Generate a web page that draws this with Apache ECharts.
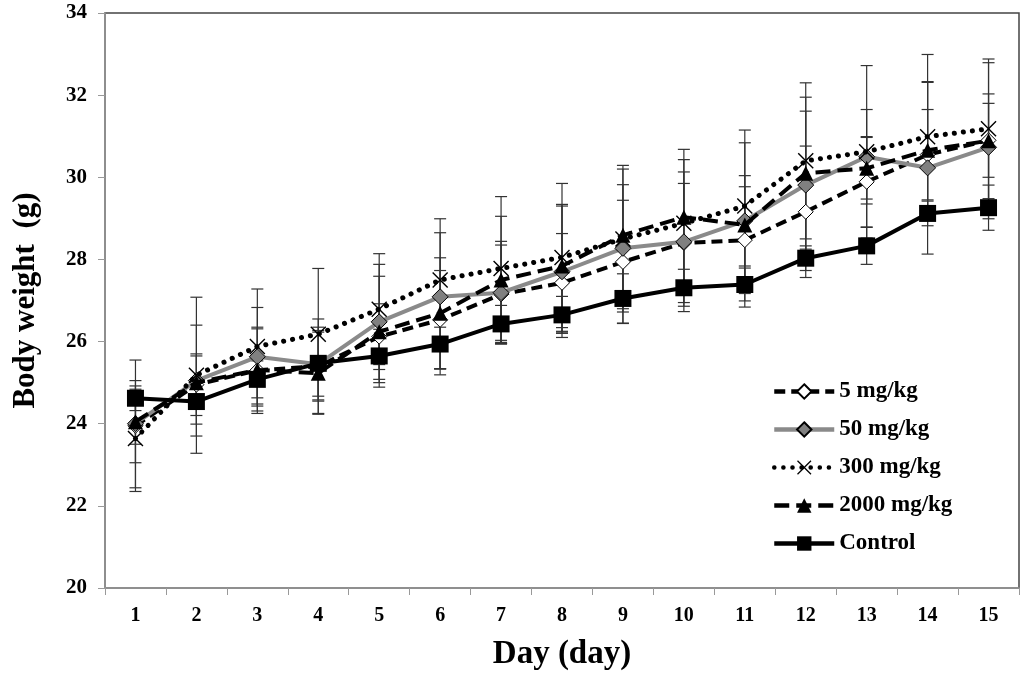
<!DOCTYPE html>
<html>
<head>
<meta charset="utf-8">
<title>Body weight</title>
<script src="https://cdn.jsdelivr.net/npm/echarts@6/dist/echarts.min.js"></script>
<style>
  html, body { margin: 0; padding: 0; background: #fff; }
  #main { width: 1024px; height: 689px; }
</style>
</head>
<body>
<div id="main"></div>
<script type="text/javascript">
// data
var days = ['1','2','3','4','5','6','7','8','9','10','11','12','13','14','15'];
var names = ['5 mg/kg', '50 mg/kg', '300 mg/kg', '2000 mg/kg', 'Control'];

var mg5    = [23.95, 24.95, 25.30, 25.40, 26.12, 26.53, 27.15, 27.43, 27.94, 28.40, 28.47, 29.16, 29.89, 30.55, 30.90];
var mg50   = [24.00, 25.05, 25.63, 25.45, 26.48, 27.09, 27.19, 27.70, 28.27, 28.43, 28.94, 29.81, 30.50, 30.23, 30.73];
var mg300  = [23.64, 25.18, 25.88, 26.18, 26.79, 27.50, 27.78, 28.05, 28.50, 28.88, 29.30, 30.40, 30.62, 30.99, 31.18];
var mg2000 = [24.05, 25.00, 25.31, 25.23, 26.24, 26.69, 27.50, 27.84, 28.59, 29.03, 28.84, 30.10, 30.22, 30.66, 30.89];
var control= [24.62, 24.54, 25.08, 25.47, 25.65, 25.94, 26.43, 26.65, 27.05, 27.31, 27.39, 28.03, 28.33, 29.12, 29.26];

// standard deviations (error bars)
var sd5    = [1.6, 0.75, 1.05, 1.15, 0.8, 1.2, 1.2, 1.2, 1.5, 1.45, 1.3, 1.6, 1.1, 1.1, 0.9];
var sd50   = [0.5, 1.35, 1.2, 0.9, 1.4, 1.9, 1.25, 1.6, 1.55, 1.7, 1.1, 1.8, 1.15, 2.1, 1.3];
var sd300  = [1.2, 1.9, 1.4, 1.6, 1.35, 1.15, 1.75, 1.8, 1.7, 1.55, 1.85, 1.9, 2.1, 2.0, 1.7];
var sd2000 = [1.0, 0.65, 1.0, 1.0, 1.35, 1.35, 1.55, 1.5, 1.7, 1.65, 2.0, 1.85, 0.75, 1.65, 1.9];
var sdCtrl = [0.3, 0.55, 0.45, 0.8, 0.65, 0.6, 0.45, 0.45, 0.6, 0.45, 0.4, 0.3, 0.45, 0.3, 0.55];

var yTicks = [20, 22, 24, 26, 28, 30, 32, 34];

var font = '"Liberation Serif", "Times New Roman", serif';
var xMark = 'path://M0,1L1,0L8,7L15,0L16,1L9,8L16,15L15,16L8,9L1,16L0,15L7,8Z';

var myChart = echarts.init(document.getElementById('main'));

// build error bar rows [dayIndex, low, high]
function errRows(mean, sd) {
    var rows = [];
    for (var i = 0; i < mean.length; i++) {
        rows.push([i, mean[i] - sd[i], mean[i] + sd[i]]);
    }
    return rows;
}
var errData = [].concat(
    errRows(mg5, sd5), errRows(mg50, sd50), errRows(mg300, sd300),
    errRows(mg2000, sd2000), errRows(control, sdCtrl));

function renderErr(params, api) {
    var x = api.coord([api.value(0), api.value(1)])[0];
    var lo = api.coord([api.value(0), api.value(1)])[1];
    var hi = api.coord([api.value(0), api.value(2)])[1];
    var st = { stroke: '#333', lineWidth: 1.2 };
    var hw = 6;
    return {
        type: 'group',
        children: [
            { type: 'line', shape: { x1: x, y1: lo, x2: x, y2: hi }, style: st },
            { type: 'line', shape: { x1: x - hw, y1: lo, x2: x + hw, y2: lo }, style: st },
            { type: 'line', shape: { x1: x - hw, y1: hi, x2: x + hw, y2: hi }, style: st }
        ]
    };
}

var option = {
    backgroundColor: '#fff',
    animation: false,
    grid: {
        left: 105, right: 5, top: 13, bottom: 101,
        show: true, borderColor: '#444', borderWidth: 1.5
    },
    legend: {
        data: names,
        orient: 'vertical',
        left: 767,
        top: 375,
        itemGap: 15,
        itemWidth: 60,
        itemHeight: 18,
        lineStyle: { width: 4.5 },
        textStyle: { fontFamily: font, fontWeight: 'bold', fontSize: 23, color: '#000' }
    },
    xAxis: {
        type: 'category',
        data: days,
        boundaryGap: true,
        name: 'Day (day)',
        nameLocation: 'middle',
        nameGap: 50,
        nameTextStyle: { fontFamily: font, fontWeight: 'bold', fontSize: 33, color: '#000' },
        axisLine: { lineStyle: { color: '#999', width: 1.5 } },
        axisTick: { show: true, length: 7, lineStyle: { color: '#999' } },
        axisLabel: { fontFamily: font, fontWeight: 'bold', fontSize: 20, color: '#000', margin: 18 },
        splitLine: { show: false }
    },
    yAxis: {
        type: 'value',
        min: yTicks[0],
        max: yTicks[yTicks.length - 1],
        interval: 2,
        name: 'Body weight  (g)',
        nameLocation: 'middle',
        nameGap: 64,
        nameTextStyle: { fontFamily: font, fontWeight: 'bold', fontSize: 31, color: '#000' },
        axisLine: { show: true, lineStyle: { color: '#999', width: 1.5 } },
        axisTick: { show: true, length: 7, lineStyle: { color: '#999' } },
        axisLabel: { fontFamily: font, fontWeight: 'bold', fontSize: 21, color: '#000', margin: 18 },
        splitLine: { show: false }
    },
    series: [
        {
            type: 'custom',
            renderItem: renderErr,
            data: errData,
            z: 1,
            silent: true,
            encode: { x: 0, y: [1, 2] }
        },
        {
            name: names[0], type: 'line', data: mg5, z: 2,
            symbol: 'diamond', symbolSize: 15,
            lineStyle: { color: '#000', width: 4, type: [11, 6] },
            itemStyle: { color: '#fff', borderColor: '#000', borderWidth: 1 }
        },
        {
            name: names[1], type: 'line', data: mg50, z: 3,
            symbol: 'diamond', symbolSize: 16,
            lineStyle: { color: '#8a8a8a', width: 4 },
            itemStyle: { color: '#808080', borderColor: '#000', borderWidth: 1 }
        },
        {
            name: names[2], type: 'line', data: mg300, z: 4,
            symbol: xMark, symbolSize: 16,
            lineStyle: { color: '#000', width: 5, type: [0.1, 9], cap: 'round' },
            itemStyle: { color: '#000' }
        },
        {
            name: names[3], type: 'line', data: mg2000, z: 5,
            symbol: 'triangle', symbolSize: 15,
            lineStyle: { color: '#000', width: 4, type: [15, 7] },
            itemStyle: { color: '#000' }
        },
        {
            name: names[4], type: 'line', data: control, z: 6,
            symbol: 'rect', symbolSize: 17,
            lineStyle: { color: '#000', width: 4 },
            itemStyle: { color: '#000' }
        }
    ]
};

myChart.setOption(option);
window.onresize = myChart.resize;
</script>
</body>
</html>
